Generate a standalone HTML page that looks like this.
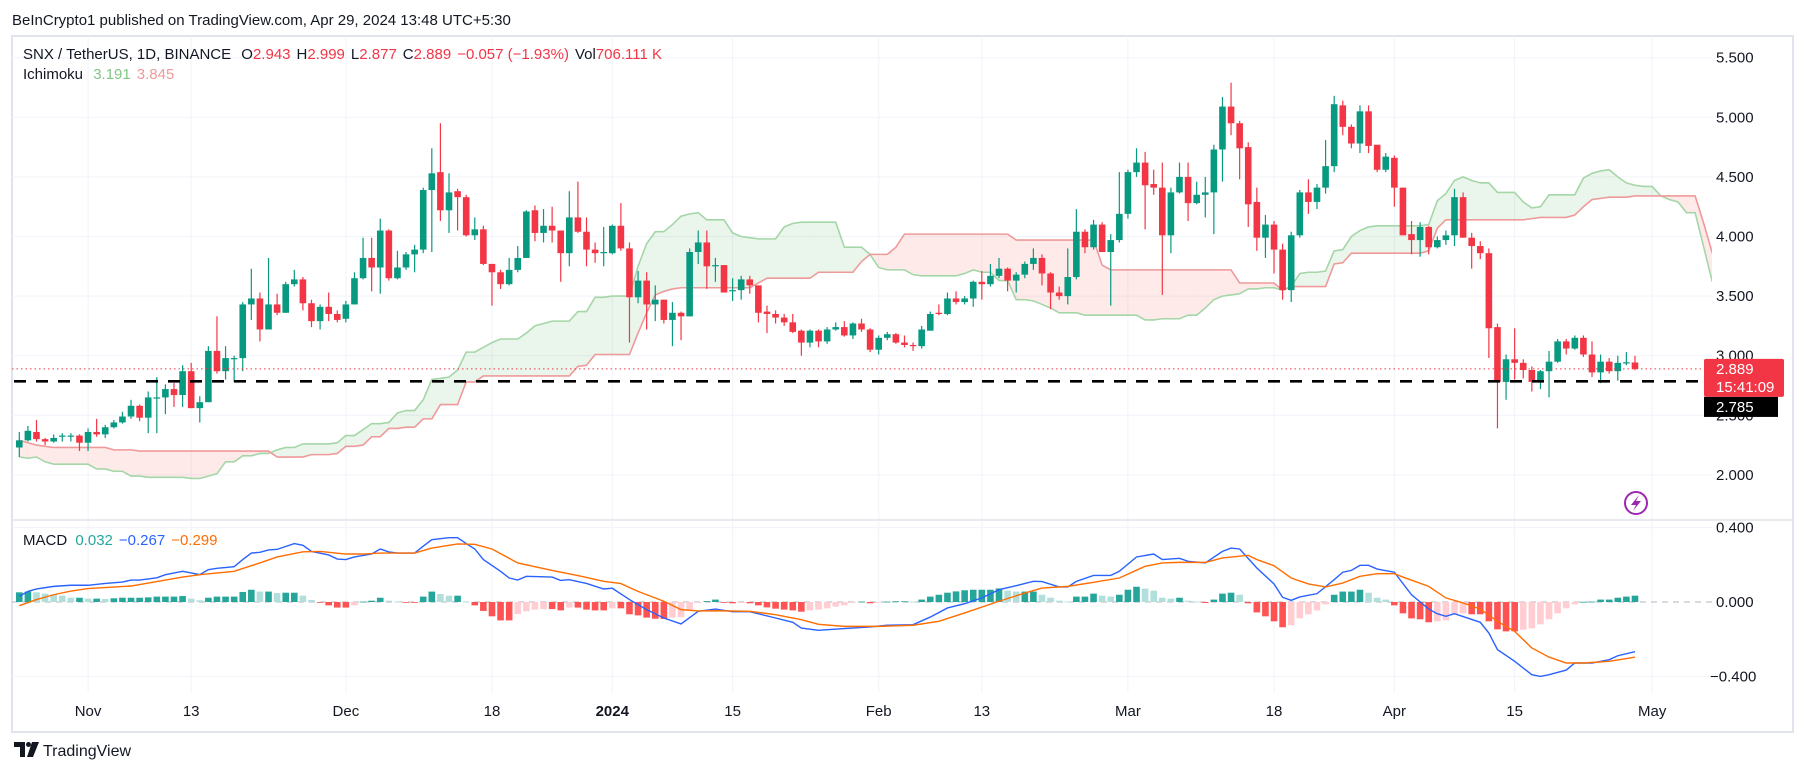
<!DOCTYPE html>
<html><head><meta charset="utf-8">
<style>
html,body{margin:0;padding:0;background:#fff;}
svg{display:block;font-family:"Liberation Sans",Arial,sans-serif;}
</style></head>
<body>
<svg id="chart" width="1805" height="771" viewBox="0 0 1805 771" xmlns="http://www.w3.org/2000/svg">
  <rect x="0" y="0" width="1805" height="771" fill="#ffffff"/>
  <text x="12" y="25" font-size="15" fill="#131722">BeInCrypto1 published on TradingView.com, Apr 29, 2024 13:48 UTC+5:30</text>
  <rect x="12" y="36" width="1781" height="696" fill="none" stroke="#e0e3eb" stroke-width="2"/>
  <g id="grid"></g>
  <g id="cloud"></g>
  <g id="candles"></g>
  <g id="overlays"></g>
  <g id="macd"></g>
  <g id="axes"></g>
  <line x1="12" y1="520" x2="1793" y2="520" stroke="#e0e3eb" stroke-width="1.5"/>

  <text x="23" y="59" font-size="15" fill="#131722">SNX / TetherUS, 1D, BINANCE <tspan dx="6">O</tspan><tspan fill="#f23645">2.943</tspan><tspan dx="6">H</tspan><tspan fill="#f23645">2.999</tspan><tspan dx="6">L</tspan><tspan fill="#f23645">2.877</tspan><tspan dx="6">C</tspan><tspan fill="#f23645">2.889</tspan><tspan dx="6" fill="#f23645">−0.057 (−1.93%)</tspan><tspan dx="6">Vol</tspan><tspan fill="#f23645">706.111 K</tspan></text>
  <text x="23" y="79" font-size="15" fill="#131722">Ichimoku <tspan dx="6" fill="#81c784">3.191</tspan><tspan dx="6" fill="#ef9a9a">3.845</tspan></text>
  <text x="23" y="545" font-size="15" fill="#131722">MACD <tspan dx="4" fill="#26a69a">0.032</tspan><tspan dx="6" fill="#2962ff">−0.267</tspan><tspan dx="6" fill="#ff6d00">−0.299</tspan></text>

  <g>
    <circle cx="1636" cy="503" r="11" fill="none" stroke="#9c27b0" stroke-width="2"/>
    <path d="M1639 495 L1631 505 L1636 505 L1633 511 L1641 501 L1636 501 Z" fill="#9c27b0"/>
  </g>

  <g>
    <path d="M14 742 H25 V757 H20 V747 H14 Z" fill="#131722"/>
    <circle cx="28.5" cy="744.5" r="2.5" fill="#131722"/>
    <path d="M32 742 H39 L33 757 H27 Z" fill="#131722"/>
    <text x="43" y="756" font-size="16" fill="#131722">TradingView</text>
  </g>
</svg>
<script>
const openV=[2.23,2.29,2.36,2.30,2.28,2.32,2.33,2.33,2.27,2.36,2.34,2.40,2.44,2.49,2.58,2.48,2.65,2.65,2.72,2.67,2.87,2.56,2.61,3.04,2.87,2.98,2.98,3.43,3.48,3.22,3.43,3.36,3.60,3.64,3.44,3.29,3.41,3.35,3.31,3.43,3.65,3.82,3.74,4.05,3.65,3.74,3.85,3.89,4.39,4.54,4.22,4.38,4.33,4.01,4.06,3.77,3.70,3.60,3.72,3.82,4.22,4.03,4.09,4.05,3.86,4.16,4.04,3.89,3.86,3.86,4.09,3.90,3.49,3.63,3.43,3.47,3.30,3.36,3.33,3.87,3.95,3.75,3.76,3.54,3.55,3.64,3.59,3.37,3.35,3.32,3.28,3.21,3.11,3.21,3.12,3.22,3.24,3.17,3.27,3.22,3.05,3.15,3.18,3.11,3.09,3.08,3.21,3.36,3.35,3.48,3.45,3.48,3.62,3.60,3.67,3.73,3.63,3.68,3.77,3.82,3.69,3.53,3.50,3.66,4.04,3.91,4.10,3.87,3.97,4.19,4.54,4.62,4.44,4.41,4.01,4.37,4.50,4.28,4.35,4.37,4.73,5.09,4.95,4.75,4.29,3.99,4.10,3.89,3.55,4.01,4.37,4.29,4.41,4.59,5.10,4.92,4.78,5.05,4.77,4.56,4.66,4.41,4.02,3.97,4.08,3.91,3.97,4.01,4.33,3.99,3.92,3.86,3.24,2.78,2.97,2.94,2.88,2.78,2.87,2.95,3.12,3.06,3.15,3.01,2.86,2.95,2.87,2.94,2.943];
const highV=[2.36,2.41,2.46,2.31,2.34,2.35,2.35,2.34,2.39,2.47,2.42,2.46,2.53,2.63,2.59,2.70,2.82,2.76,2.77,2.92,2.94,2.66,3.08,3.33,3.08,3.00,3.45,3.73,3.53,3.82,3.52,3.62,3.72,3.66,3.47,3.43,3.53,3.38,3.46,3.70,3.99,3.99,4.15,4.06,3.88,3.87,3.93,4.41,4.74,4.95,4.53,4.40,4.35,4.16,4.09,3.77,3.72,3.82,3.92,4.22,4.26,4.23,4.25,4.05,4.38,4.46,4.16,3.95,4.08,4.10,4.28,3.95,3.71,3.70,3.59,3.47,3.45,3.37,3.90,4.05,4.05,3.82,3.76,3.65,3.67,3.67,3.59,3.42,3.38,3.35,3.35,3.22,3.22,3.22,3.24,3.28,3.29,3.28,3.31,3.23,3.17,3.20,3.19,3.17,3.11,3.25,3.37,3.43,3.53,3.54,3.50,3.63,3.71,3.77,3.82,3.74,3.70,3.79,3.90,3.85,3.70,3.58,3.90,4.23,4.06,4.14,4.12,4.02,4.54,4.56,4.74,4.71,4.56,4.62,4.41,4.62,4.62,4.46,4.50,4.77,5.17,5.29,4.97,4.79,4.41,4.18,4.13,3.94,4.04,4.39,4.48,4.44,4.81,5.18,5.14,4.94,5.10,5.10,4.60,4.70,4.68,4.41,4.13,4.12,4.09,4.00,4.05,4.40,4.37,4.03,3.96,3.90,3.27,3.01,3.23,2.97,2.91,2.88,3.04,3.14,3.14,3.17,3.17,3.12,3.01,2.98,3.00,3.03,2.999];
const lowV=[2.15,2.28,2.28,2.25,2.27,2.28,2.28,2.20,2.20,2.32,2.31,2.39,2.43,2.47,2.45,2.35,2.35,2.51,2.57,2.57,2.56,2.44,2.61,2.85,2.80,2.78,2.87,3.30,3.12,3.22,3.34,3.36,3.58,3.38,3.24,3.22,3.29,3.28,3.28,3.43,3.64,3.54,3.52,3.63,3.64,3.72,3.70,3.86,3.87,4.13,4.03,4.05,4.00,3.97,3.76,3.42,3.56,3.59,3.70,3.82,3.96,3.95,3.95,3.62,3.75,4.03,3.75,3.78,3.75,3.85,3.88,3.11,3.44,3.22,3.29,3.27,3.08,3.13,3.33,3.77,3.56,3.62,3.53,3.46,3.47,3.52,3.28,3.19,3.27,3.25,3.19,3.00,3.07,3.07,3.10,3.21,3.16,3.14,3.20,3.03,3.01,3.13,3.10,3.07,3.04,3.06,3.21,3.34,3.34,3.43,3.43,3.41,3.47,3.58,3.65,3.54,3.53,3.65,3.72,3.59,3.39,3.47,3.43,3.64,3.86,3.89,3.87,3.42,3.95,4.15,4.50,4.06,4.35,3.51,3.86,4.36,4.13,4.27,4.16,4.02,4.46,4.85,4.48,4.08,3.88,3.82,3.69,3.47,3.45,3.99,4.19,4.23,4.36,4.54,4.85,4.74,4.70,4.70,4.54,4.54,4.25,4.01,3.85,3.83,3.85,3.90,3.93,3.92,3.99,3.73,3.81,2.98,2.39,2.63,2.80,2.81,2.70,2.72,2.65,2.94,3.01,3.05,2.99,2.82,2.77,2.85,2.79,2.92,2.877];
const closeV=[2.29,2.37,2.30,2.28,2.31,2.33,2.33,2.27,2.36,2.34,2.40,2.44,2.49,2.58,2.48,2.65,2.65,2.72,2.67,2.87,2.56,2.61,3.04,2.87,2.98,2.98,3.43,3.48,3.22,3.43,3.36,3.60,3.64,3.44,3.29,3.41,3.35,3.30,3.43,3.65,3.82,3.74,4.05,3.65,3.74,3.85,3.89,4.39,4.53,4.22,4.37,4.33,4.01,4.06,3.77,3.70,3.60,3.72,3.82,4.21,4.03,4.09,4.05,3.86,4.16,4.04,3.89,3.86,3.87,4.09,3.90,3.49,3.63,3.43,3.47,3.30,3.36,3.33,3.87,3.95,3.75,3.76,3.53,3.55,3.64,3.59,3.36,3.35,3.32,3.28,3.20,3.11,3.21,3.12,3.22,3.24,3.17,3.27,3.22,3.05,3.15,3.18,3.11,3.09,3.08,3.22,3.35,3.35,3.48,3.45,3.48,3.62,3.60,3.67,3.73,3.63,3.68,3.77,3.82,3.69,3.53,3.50,3.66,4.04,3.91,4.10,3.87,3.97,4.19,4.54,4.62,4.43,4.41,4.01,4.37,4.50,4.28,4.35,4.37,4.73,5.09,4.95,4.74,4.27,3.99,4.10,3.89,3.55,4.01,4.37,4.29,4.41,4.59,5.11,4.92,4.78,5.05,4.76,4.56,4.67,4.41,4.01,3.97,4.08,3.91,3.97,4.01,4.33,3.99,3.92,3.86,3.23,2.78,2.97,2.94,2.88,2.78,2.87,2.95,3.12,3.06,3.15,3.01,2.86,2.95,2.87,2.94,2.945,2.889];

const spanA=[2.15,2.14,2.15,2.11,2.09,2.09,2.09,2.09,2.09,2.05,2.05,2.03,2.03,1.99,1.99,1.98,1.98,1.98,1.98,1.98,1.97,1.97,1.99,2.01,2.11,2.11,2.16,2.16,2.18,2.18,2.21,2.23,2.23,2.26,2.26,2.26,2.26,2.27,2.33,2.33,2.38,2.43,2.43,2.44,2.52,2.54,2.54,2.63,2.80,2.81,2.82,2.88,3.03,3.03,3.07,3.11,3.14,3.14,3.14,3.19,3.25,3.27,3.29,3.29,3.29,3.37,3.37,3.49,3.49,3.50,3.50,3.50,3.75,3.94,4.04,4.04,4.10,4.17,4.19,4.20,4.14,4.14,4.14,4.03,4.00,3.99,3.98,3.98,3.98,4.08,4.11,4.12,4.12,4.12,4.12,4.12,3.91,3.91,3.91,3.85,3.74,3.72,3.72,3.72,3.68,3.67,3.67,3.67,3.67,3.67,3.69,3.72,3.70,3.70,3.63,3.63,3.47,3.47,3.46,3.43,3.40,3.36,3.36,3.36,3.34,3.34,3.34,3.34,3.34,3.34,3.34,3.30,3.30,3.31,3.31,3.31,3.34,3.34,3.40,3.47,3.50,3.51,3.52,3.56,3.56,3.57,3.57,3.55,3.58,3.69,3.70,3.70,3.71,3.88,3.89,4.00,4.05,4.08,4.09,4.09,4.09,4.09,4.09,4.09,4.10,4.30,4.36,4.47,4.50,4.47,4.45,4.45,4.37,4.37,4.37,4.29,4.24,4.25,4.35,4.35,4.35,4.35,4.49,4.53,4.55,4.56,4.50,4.45,4.43,4.42,4.42,4.34,4.31,4.29,4.20,4.20,3.91,3.62];
const spanB=[2.29,2.27,2.25,2.24,2.23,2.23,2.23,2.23,2.23,2.23,2.23,2.21,2.21,2.21,2.20,2.20,2.20,2.20,2.20,2.20,2.20,2.20,2.20,2.20,2.20,2.20,2.20,2.20,2.20,2.20,2.15,2.15,2.15,2.15,2.17,2.17,2.17,2.18,2.24,2.24,2.25,2.32,2.32,2.39,2.39,2.40,2.40,2.47,2.47,2.59,2.59,2.59,2.78,2.78,2.83,2.83,2.83,2.83,2.83,2.83,2.83,2.83,2.83,2.83,2.83,2.91,2.92,3.01,3.01,3.01,3.01,3.01,3.19,3.36,3.51,3.54,3.56,3.57,3.57,3.57,3.57,3.57,3.57,3.57,3.57,3.57,3.61,3.65,3.65,3.65,3.65,3.65,3.65,3.70,3.70,3.70,3.70,3.70,3.79,3.85,3.85,3.85,3.91,4.02,4.02,4.02,4.02,4.02,4.02,4.02,4.02,4.02,4.02,4.02,4.02,4.02,3.97,3.97,3.97,3.97,3.97,3.97,3.97,3.97,3.97,3.97,3.76,3.72,3.72,3.72,3.72,3.72,3.72,3.72,3.72,3.72,3.72,3.72,3.72,3.72,3.72,3.72,3.61,3.61,3.61,3.61,3.61,3.55,3.58,3.58,3.58,3.58,3.58,3.77,3.78,3.86,3.86,3.86,3.86,3.86,3.86,3.86,3.86,3.86,3.88,4.07,4.14,4.14,4.14,4.14,4.14,4.14,4.14,4.14,4.14,4.14,4.15,4.16,4.16,4.16,4.16,4.18,4.25,4.31,4.32,4.33,4.33,4.33,4.34,4.34,4.34,4.34,4.34,4.34,4.34,4.34,4.11,3.86];

const macdIdx=[0,1,2,4,6,8,10,12,13,14,16,17,19,20,21,22,23,25,26,27,28,29,30,32,33,34,36,37,38,39,41,42,43,44,46,47,48,50,51,52,53,54,56,57,58,59,62,63,64,66,68,69,71,73,75,77,79,81,83,85,88,90,91,93,96,99,101,104,106,108,110,112,114,116,118,119,121,122,123,125,127,128,130,132,133,135,136,138,140,141,142,144,146,147,148,149,151,153,154,155,156,157,158,160,162,164,165,166,167,170,171,172,174,176,177,178,180,181,183,185,186,188];
const macdVal=[0.03,0.057,0.07,0.084,0.09,0.09,0.10,0.107,0.118,0.118,0.13,0.147,0.165,0.156,0.147,0.174,0.181,0.19,0.228,0.263,0.267,0.28,0.283,0.314,0.305,0.272,0.253,0.231,0.228,0.242,0.258,0.285,0.269,0.263,0.263,0.30,0.335,0.346,0.346,0.314,0.285,0.228,0.165,0.129,0.118,0.138,0.134,0.116,0.12,0.10,0.07,0.074,0.013,-0.041,-0.086,-0.118,-0.05,-0.038,-0.052,-0.052,-0.086,-0.109,-0.14,-0.152,-0.143,-0.134,-0.125,-0.122,-0.081,-0.032,-0.009,0.022,0.066,0.088,0.111,0.11,0.081,0.081,0.111,0.143,0.143,0.165,0.242,0.258,0.228,0.235,0.219,0.21,0.272,0.29,0.285,0.183,0.097,0.025,0.009,0.027,0.045,0.12,0.16,0.17,0.197,0.197,0.177,0.16,0.039,-0.038,-0.063,-0.077,-0.063,-0.109,-0.167,-0.256,-0.319,-0.391,-0.40,-0.391,-0.366,-0.328,-0.328,-0.31,-0.289,-0.267];
const sigIdx=[0,2,4,6,8,13,15,19,21,25,28,30,33,35,38,40,42,46,48,51,53,55,58,62,65,68,70,72,75,77,79,81,85,88,91,93,96,100,104,107,110,114,117,119,122,125,128,131,133,135,138,140,143,144,146,148,150,152,154,156,158,160,161,164,166,168,170,172,174,176,178,180,182,185,188];
const sigVal=[-0.02,0.013,0.039,0.059,0.072,0.086,0.102,0.134,0.147,0.165,0.21,0.242,0.27,0.272,0.258,0.258,0.263,0.263,0.29,0.312,0.31,0.285,0.21,0.17,0.142,0.111,0.099,0.057,0.004,-0.041,-0.048,-0.047,-0.05,-0.068,-0.095,-0.12,-0.131,-0.131,-0.125,-0.104,-0.059,0.004,0.048,0.075,0.084,0.106,0.129,0.192,0.21,0.213,0.213,0.237,0.251,0.228,0.195,0.129,0.097,0.081,0.102,0.138,0.152,0.152,0.134,0.084,0.022,-0.005,-0.038,-0.104,-0.158,-0.247,-0.296,-0.328,-0.328,-0.319,-0.297];
const histVal=[0.052,0.056,0.052,0.045,0.041,0.034,0.023,0.023,0.018,0.018,0.016,0.020,0.023,0.023,0.023,0.025,0.029,0.029,0.029,0.032,0.018,0.009,0.023,0.029,0.029,0.029,0.054,0.066,0.056,0.056,0.048,0.050,0.050,0.034,0.011,-0.004,-0.018,-0.030,-0.030,-0.018,0.002,0.007,0.023,0.007,0.002,-0.002,-0.004,0.029,0.056,0.043,0.034,0.034,0.002,-0.018,-0.048,-0.077,-0.099,-0.099,-0.065,-0.050,-0.041,-0.038,-0.038,-0.045,-0.030,-0.030,-0.041,-0.045,-0.045,
-0.034,-0.034,-0.066,-0.072,-0.084,-0.090,-0.091,-0.084,-0.082,-0.041,-0.005,0.005,0.013,-0.002,-0.007,-0.005,-0.007,-0.018,-0.029,-0.036,-0.041,-0.045,-0.052,-0.045,-0.041,-0.034,-0.025,-0.018,-0.005,0.002,-0.007,-0.005,0.002,0.004,0.004,0.002,0.013,0.029,0.039,0.050,0.057,0.063,0.066,0.066,0.066,0.073,0.061,0.056,0.056,0.056,0.039,0.023,0.007,0.002,0.029,0.029,0.045,0.034,0.029,0.039,0.066,0.082,0.072,0.061,0.023,0.018,0.023,0.007,0.002,
-0.005,0.013,0.045,0.050,0.039,-0.007,-0.056,-0.077,-0.104,-0.136,-0.125,-0.088,-0.066,-0.045,-0.013,0.039,0.056,0.056,0.066,0.050,0.023,0.013,-0.018,-0.061,-0.088,-0.093,-0.109,-0.104,-0.099,-0.066,-0.061,-0.066,-0.066,-0.104,-0.147,-0.158,-0.158,-0.149,-0.142,-0.120,-0.093,-0.061,-0.034,-0.013,0.001,0.002,0.013,0.013,0.023,0.029,0.034];

const priceTicks=[5.5,5.0,4.5,4.0,3.5,3.0,2.5,2.0];
const macdTicks=[0.4,0,-0.4];
const dateLabels=["Nov","13","Dec","18","2024","15","Feb","13","Mar","18","Apr","15","May"];
const dateIdx=[8,20,38,55,69,83,100,112,129,146,160,174,190];
const lastPrice=2.889, linePrice=2.785;

const NS="http://www.w3.org/2000/svg";
const PLOT_L=12, PLOT_R=1712, P_TOP=36, P_BOT=520, M_TOP=521, M_BOT=692;
function xOf(i){return 19.3+8.594*i;}
function yP(p){return 117.3+(5-p)*119.2;}
function yM(m){return 602-m*186;}
function mk(tag,attrs,parent){const e=document.createElementNS(NS,tag);for(const k in attrs)e.setAttribute(k,attrs[k]);parent.appendChild(e);return e;}

const grid=document.getElementById('grid');
priceTicks.forEach(p=>{const l=mk('line',{x1:PLOT_L,x2:PLOT_R,y1:yP(p),y2:yP(p),stroke:'#f0f3fa','stroke-width':1},grid);

});
macdTicks.forEach(m=>{if(m===0)return;const l=mk('line',{x1:PLOT_L,x2:PLOT_R,y1:yM(m),y2:yM(m),stroke:'#f0f3fa','stroke-width':1},grid);

});
dateIdx.forEach(i=>{const l=mk('line',{x1:xOf(i),x2:xOf(i),y1:P_TOP,y2:M_BOT,stroke:'#f0f3fa','stroke-width':1},grid);

});

// cloud
const cloud=document.getElementById('cloud');
const cp=mk('clipPath',{id:'pclip'},cloud);mk('rect',{x:PLOT_L,y:P_TOP,width:PLOT_R-PLOT_L,height:P_BOT-P_TOP},cp);
const cg=mk('g',{'clip-path':'url(#pclip)'},cloud);
for(let k=0;k<spanA.length-1;k++){
  const up=(spanA[k]+spanA[k+1])>=(spanB[k]+spanB[k+1]);
  const pts=[[xOf(k),yP(spanA[k])],[xOf(k+1),yP(spanA[k+1])],[xOf(k+1),yP(spanB[k+1])],[xOf(k),yP(spanB[k])]].map(a=>a.join(',')).join(' ');
  const pg=mk('polygon',{points:pts,fill:up?'rgba(67,160,71,0.11)':'rgba(244,67,54,0.11)',stroke:'none'},cg);
  
  
}
const la=mk('polyline',{points:spanA.map((v,i)=>xOf(i)+','+yP(v)).join(' '),fill:'none',stroke:'#a5d6a7','stroke-width':1.6},cg);


const lb=mk('polyline',{points:spanB.map((v,i)=>xOf(i)+','+yP(v)).join(' '),fill:'none',stroke:'#ef9a9a','stroke-width':1.6},cg);



// candles
const cgr=document.getElementById('candles');
for(let i=0;i<closeV.length;i++){
  const up=closeV[i]>=openV[i];const col=up?'#089981':'#f23645';const x=xOf(i);
  const w=mk('line',{x1:x,x2:x,y1:yP(highV[i]),y2:yP(lowV[i]),stroke:col,'stroke-width':1.2},cgr);
  
  
  const t=Math.min(yP(openV[i]),yP(closeV[i]));const h=Math.max(1.2,Math.abs(yP(openV[i])-yP(closeV[i])));
  const b=mk('rect',{x:x-3.3,y:t,width:6.6,height:h,fill:col},cgr);
  
  
}

// price lines
const ov=document.getElementById('overlays');
const dl=mk('line',{x1:PLOT_L,x2:PLOT_R,y1:yP(lastPrice),y2:yP(lastPrice),stroke:'#f23645','stroke-width':1,'stroke-dasharray':'1.5,3'},ov);


const hl=mk('line',{x1:PLOT_L+2,x2:PLOT_R,y1:yP(linePrice),y2:yP(linePrice),stroke:'#000','stroke-width':2.6,'stroke-dasharray':'12,10'},ov);



// MACD
const mg=document.getElementById('macd');
const zl=mk('line',{x1:PLOT_L,x2:PLOT_R,y1:yM(0),y2:yM(0),stroke:'#b2b5be','stroke-width':1,'stroke-dasharray':'6,5'},mg);


for(let i=0;i<histVal.length;i++){
  const h=histVal[i];const prevH=i>0?histVal[i-1]:null;
  let col;
  if(h>=0)col=(prevH===null||h>=prevH)?'#26a69a':'#b2dfdb';else col=(prevH===null||h<=prevH)?'#ff5252':'#ffcdd2';
  const y0=yM(0),y1=yM(h);
  const r=mk('rect',{x:xOf(i)-3.3,y:Math.min(y0,y1),width:6.6,height:Math.max(0.8,Math.abs(y1-y0)),fill:col},mg);
  
  
}
const ml=mk('polyline',{points:macdIdx.map((i,k)=>xOf(i)+','+yM(macdVal[k])).join(' '),fill:'none',stroke:'#2962ff','stroke-width':1.4},mg);


const sl=mk('polyline',{points:sigIdx.map((i,k)=>xOf(i)+','+yM(sigVal[k])).join(' '),fill:'none',stroke:'#ff6d00','stroke-width':1.4},mg);



// axes
const ax=document.getElementById('axes');
priceTicks.forEach(p=>{const t=mk('text',{x:1716,y:yP(p)+5,'font-size':15,fill:'#131722'},ax);t.textContent=p.toFixed(3);

});
macdTicks.forEach(m=>{const t=mk('text',{x:m<0?1710:1716,y:yM(m)+5,'font-size':15,fill:'#131722'},ax);t.textContent=(m<0?'−':'')+Math.abs(m).toFixed(3);

});
dateLabels.forEach((s,k)=>{const t=mk('text',{x:xOf(dateIdx[k]),y:716,'font-size':15,fill:'#131722','text-anchor':'middle','font-weight':s==='2024'?'bold':'normal'},ax);t.textContent=s;

});
const rb=mk('rect',{x:1704,y:yP(lastPrice)-10,width:80,height:38,fill:'#f23645',rx:2},ax);


const t1=mk('text',{x:1716,y:yP(lastPrice)+5,'font-size':15,fill:'#fff'},ax);t1.textContent=lastPrice.toFixed(3);


const t2=mk('text',{x:1716,y:yP(lastPrice)+23,'font-size':15,fill:'#fff'},ax);t2.textContent='15:41:09';


const bb=mk('rect',{x:1704,y:yP(lastPrice)+28,width:74,height:20,fill:'#000'},ax);


const t3=mk('text',{x:1716,y:yP(lastPrice)+43,'font-size':15,fill:'#fff'},ax);t3.textContent=linePrice.toFixed(3);


</script>
</body></html>
